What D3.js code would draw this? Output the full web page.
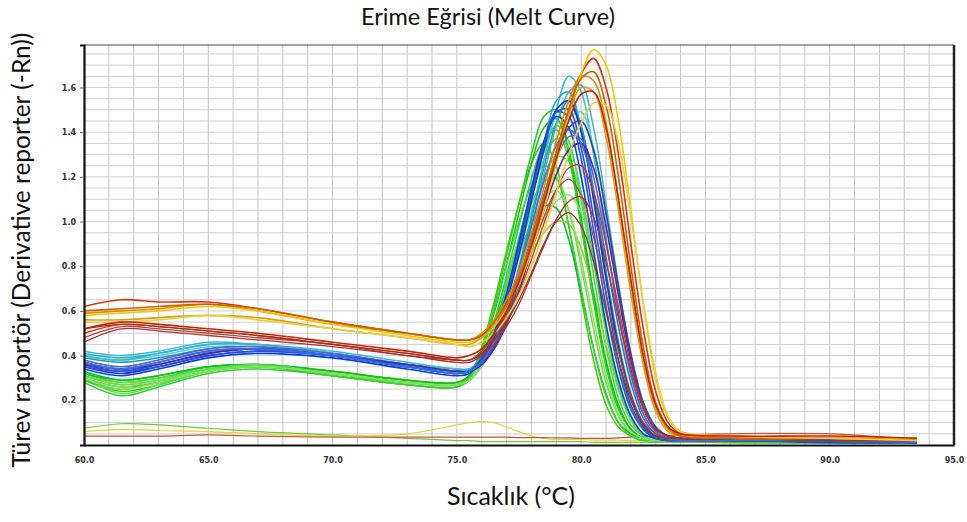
<!DOCTYPE html>
<html>
<head>
<meta charset="utf-8">
<script src="https://cdn.jsdelivr.net/npm/d3@7"></script>
<style>
  body { margin: 0; background: #fff; }
  svg { display: block; }
</style>
</head>
<body>
<script>
const temps = [60, 61.5, 63, 65, 67, 70, 73, 75, 75.5, 76, 76.5, 77, 77.5, 78, 78.5, 79, 79.5, 80, 80.5, 81, 81.5, 82, 82.5, 83, 83.5, 84, 86, 90, 93.5];

const xTicks = [60, 65, 70, 75, 80, 85, 90, 95];
const yTicks = [0.2, 0.4, 0.6, 0.8, 1.0, 1.2, 1.4, 1.6];

// low (no-template) wells
const lowCurves = [
  [0.075,0.095,0.09,0.075,0.06,0.045,0.03,0.02,0.02,0.015,0.015,0.015,0.015,0.015,0.015,0.015,0.015,0.015,0.012,0.012,0.012,0.012,0.012,0.012,0.012,0.012,0.012,0.01,0.01],
  [0.06,0.07,0.065,0.06,0.05,0.04,0.05,0.09,0.10,0.105,0.10,0.08,0.06,0.04,0.03,0.025,0.025,0.025,0.022,0.022,0.022,0.02,0.02,0.02,0.02,0.02,0.02,0.02,0.02],
  [0.04,0.04,0.04,0.045,0.04,0.035,0.035,0.035,0.035,0.035,0.035,0.035,0.033,0.033,0.033,0.032,0.032,0.03,0.03,0.03,0.032,0.035,0.038,0.04,0.042,0.045,0.05,0.05,0.025]
];
const lowColors = ["#66cc33", "#e6d23a", "#c8553a"];

const greenCurves = [
  [0.30,0.26,0.28,0.33,0.35,0.32,0.28,0.27,0.31,0.43,0.62,0.85,1.08,1.30,1.47,1.50,1.30,0.98,0.64,0.35,0.16,0.07,0.03,0.02,0.02,0.02,0.02,0.01,0.01],
  [0.32,0.28,0.30,0.35,0.36,0.33,0.29,0.27,0.29,0.38,0.52,0.72,0.93,1.13,1.31,1.43,1.36,1.10,0.76,0.44,0.21,0.09,0.04,0.02,0.02,0.02,0.02,0.02,0.01],
  [0.29,0.24,0.27,0.33,0.35,0.31,0.27,0.26,0.30,0.44,0.64,0.87,1.08,1.26,1.35,1.25,0.98,0.66,0.38,0.18,0.08,0.04,0.02,0.02,0.02,0.02,0.01,0.01,0.01],
  [0.31,0.27,0.29,0.34,0.35,0.32,0.28,0.27,0.30,0.40,0.55,0.74,0.93,1.08,1.18,1.19,1.05,0.80,0.52,0.28,0.13,0.05,0.03,0.02,0.02,0.02,0.02,0.01,0.01],
  [0.33,0.29,0.31,0.35,0.36,0.33,0.29,0.28,0.31,0.40,0.54,0.70,0.86,0.99,1.07,1.06,0.92,0.68,0.43,0.23,0.10,0.05,0.03,0.02,0.02,0.02,0.02,0.02,0.01],
  [0.30,0.23,0.27,0.33,0.35,0.31,0.28,0.27,0.29,0.37,0.50,0.67,0.86,1.05,1.20,1.29,1.27,1.10,0.82,0.52,0.27,0.12,0.05,0.03,0.02,0.02,0.02,0.01,0.01],
  [0.28,0.22,0.26,0.32,0.34,0.31,0.27,0.26,0.29,0.39,0.55,0.76,0.98,1.19,1.35,1.41,1.28,0.99,0.66,0.37,0.17,0.07,0.03,0.02,0.02,0.02,0.02,0.01,0.01],
  [0.31,0.27,0.29,0.34,0.35,0.32,0.28,0.27,0.29,0.36,0.46,0.59,0.73,0.86,0.95,1.00,0.99,0.88,0.68,0.45,0.25,0.12,0.05,0.03,0.02,0.02,0.02,0.01,0.01],
  [0.32,0.29,0.31,0.35,0.36,0.33,0.29,0.28,0.31,0.42,0.59,0.81,1.04,1.26,1.42,1.46,1.32,1.02,0.68,0.38,0.18,0.07,0.03,0.02,0.02,0.02,0.02,0.02,0.01],
  [0.30,0.26,0.29,0.34,0.35,0.32,0.28,0.27,0.29,0.35,0.44,0.57,0.72,0.88,1.01,1.09,1.12,1.04,0.84,0.59,0.35,0.17,0.07,0.03,0.02,0.02,0.02,0.01,0.01],
  [0.29,0.25,0.28,0.33,0.35,0.31,0.27,0.26,0.30,0.42,0.60,0.81,1.00,1.16,1.25,1.20,0.98,0.70,0.43,0.22,0.10,0.04,0.02,0.02,0.02,0.02,0.02,0.01,0.01],
  [0.31,0.28,0.30,0.34,0.36,0.32,0.28,0.27,0.29,0.37,0.51,0.70,0.91,1.11,1.28,1.37,1.33,1.13,0.82,0.50,0.25,0.11,0.04,0.02,0.02,0.02,0.02,0.01,0.01],
  [0.30,0.25,0.28,0.33,0.35,0.32,0.28,0.27,0.29,0.38,0.51,0.67,0.84,0.99,1.10,1.14,1.05,0.83,0.56,0.31,0.14,0.06,0.03,0.02,0.02,0.02,0.02,0.01,0.01]
];
const greenColors = ["#22cc22", "#33dd33", "#44cc00", "#66dd44", "#00bb33", "#55e055", "#2fd02f", "#99cc33", "#11c411", "#77e077", "#3ccf3c", "#58d858", "#8ee05a"];

const cyanCurves = [
  [0.42,0.40,0.42,0.46,0.45,0.42,0.37,0.34,0.34,0.38,0.47,0.61,0.80,1.03,1.27,1.50,1.65,1.58,1.30,0.93,0.58,0.31,0.14,0.06,0.03,0.03,0.02,0.02,0.02],
  [0.41,0.39,0.41,0.45,0.45,0.41,0.36,0.33,0.34,0.39,0.50,0.66,0.88,1.12,1.35,1.54,1.58,1.42,1.10,0.74,0.43,0.21,0.09,0.04,0.03,0.02,0.02,0.02,0.02],
  [0.40,0.38,0.40,0.44,0.44,0.41,0.36,0.33,0.33,0.36,0.43,0.55,0.71,0.90,1.11,1.31,1.46,1.49,1.33,1.03,0.69,0.39,0.18,0.08,0.04,0.03,0.02,0.02,0.02],
  [0.39,0.37,0.39,0.43,0.44,0.40,0.35,0.33,0.33,0.37,0.46,0.60,0.79,1.01,1.24,1.44,1.54,1.43,1.14,0.78,0.46,0.23,0.10,0.04,0.03,0.02,0.02,0.02,0.02],
  [0.40,0.38,0.41,0.45,0.45,0.41,0.36,0.34,0.34,0.37,0.45,0.58,0.76,0.98,1.21,1.43,1.58,1.61,1.42,1.08,0.72,0.40,0.19,0.08,0.04,0.03,0.02,0.02,0.02]
];
const cyanColors = ["#33bbdd", "#22aacc", "#55cce6", "#1a9ab0", "#3fb3c8"];

const blueCurves = [
  [0.35,0.32,0.35,0.40,0.42,0.40,0.35,0.32,0.33,0.38,0.48,0.64,0.85,1.09,1.32,1.50,1.54,1.40,1.10,0.75,0.44,0.22,0.09,0.04,0.03,0.02,0.02,0.02,0.01],
  [0.36,0.33,0.36,0.41,0.43,0.40,0.35,0.32,0.33,0.39,0.50,0.67,0.89,1.13,1.35,1.49,1.47,1.28,0.96,0.62,0.34,0.16,0.07,0.03,0.02,0.02,0.02,0.02,0.01],
  [0.37,0.34,0.37,0.42,0.43,0.40,0.36,0.33,0.33,0.36,0.44,0.56,0.72,0.91,1.11,1.29,1.42,1.45,1.32,1.04,0.71,0.41,0.19,0.08,0.04,0.03,0.02,0.02,0.01],
  [0.34,0.31,0.34,0.39,0.41,0.39,0.34,0.31,0.32,0.38,0.50,0.68,0.91,1.15,1.36,1.47,1.42,1.20,0.87,0.54,0.29,0.13,0.05,0.03,0.02,0.02,0.02,0.01,0.01],
  [0.38,0.35,0.38,0.43,0.44,0.41,0.36,0.33,0.33,0.37,0.45,0.58,0.74,0.93,1.12,1.28,1.38,1.37,1.20,0.91,0.59,0.32,0.14,0.06,0.03,0.02,0.02,0.02,0.01],
  [0.36,0.34,0.36,0.41,0.43,0.40,0.36,0.33,0.33,0.36,0.43,0.54,0.69,0.87,1.05,1.21,1.32,1.35,1.24,0.98,0.67,0.38,0.17,0.07,0.04,0.03,0.02,0.02,0.01],
  [0.35,0.33,0.35,0.40,0.42,0.40,0.35,0.32,0.33,0.38,0.49,0.66,0.88,1.12,1.34,1.49,1.50,1.33,1.02,0.68,0.38,0.18,0.08,0.03,0.02,0.02,0.02,0.02,0.01],
  [0.37,0.34,0.37,0.42,0.43,0.40,0.35,0.32,0.33,0.37,0.46,0.60,0.78,0.98,1.18,1.34,1.41,1.35,1.14,0.84,0.53,0.28,0.12,0.05,0.03,0.02,0.02,0.02,0.01]
];
const blueColors = ["#1133cc", "#2255ee", "#3344aa", "#0044dd", "#5566cc", "#4a2a9a", "#2a4fd8", "#3a6ee0"];

const redCurves = [
  [0.50,0.54,0.53,0.51,0.49,0.45,0.41,0.38,0.38,0.41,0.47,0.56,0.68,0.83,0.99,1.14,1.24,1.25,1.13,0.90,0.62,0.36,0.17,0.07,0.04,0.03,0.03,0.03,0.02],
  [0.48,0.53,0.52,0.50,0.48,0.45,0.40,0.38,0.38,0.42,0.49,0.59,0.72,0.87,1.02,1.14,1.19,1.12,0.93,0.68,0.42,0.22,0.10,0.05,0.03,0.03,0.03,0.02,0.02],
  [0.46,0.52,0.51,0.49,0.47,0.44,0.40,0.37,0.37,0.40,0.45,0.53,0.63,0.76,0.89,1.01,1.09,1.11,1.02,0.82,0.57,0.34,0.16,0.07,0.04,0.03,0.03,0.02,0.02],
  [0.52,0.54,0.53,0.51,0.49,0.45,0.41,0.38,0.38,0.41,0.47,0.55,0.65,0.77,0.90,1.00,1.04,0.98,0.82,0.60,0.38,0.20,0.09,0.04,0.03,0.03,0.03,0.02,0.02]
];
const redColors = ["#cc3322", "#aa4433", "#b03030", "#993322"];

const orangeCurves = [
  [0.62,0.65,0.64,0.64,0.61,0.55,0.50,0.47,0.47,0.49,0.54,0.62,0.74,0.90,1.09,1.30,1.50,1.66,1.73,1.60,1.30,0.90,0.52,0.24,0.10,0.05,0.04,0.03,0.03],
  [0.59,0.60,0.61,0.63,0.60,0.54,0.50,0.47,0.47,0.50,0.56,0.65,0.78,0.95,1.15,1.36,1.54,1.65,1.63,1.44,1.10,0.72,0.39,0.17,0.07,0.04,0.03,0.03,0.02],
  [0.58,0.59,0.60,0.62,0.60,0.54,0.49,0.46,0.46,0.48,0.53,0.61,0.72,0.87,1.05,1.26,1.47,1.66,1.77,1.70,1.45,1.05,0.63,0.30,0.12,0.06,0.04,0.03,0.03],
  [0.56,0.56,0.57,0.58,0.57,0.52,0.48,0.45,0.45,0.48,0.54,0.63,0.75,0.91,1.10,1.30,1.48,1.60,1.58,1.38,1.05,0.68,0.36,0.15,0.06,0.04,0.03,0.03,0.02],
  [0.60,0.61,0.62,0.63,0.61,0.55,0.50,0.47,0.47,0.49,0.55,0.63,0.75,0.91,1.10,1.31,1.50,1.64,1.67,1.52,1.20,0.80,0.44,0.19,0.08,0.04,0.03,0.03,0.02],
  [0.55,0.55,0.56,0.58,0.56,0.52,0.48,0.45,0.44,0.46,0.50,0.57,0.67,0.80,0.96,1.13,1.30,1.44,1.53,1.52,1.35,1.02,0.64,0.32,0.13,0.06,0.04,0.03,0.02],
  [0.52,0.55,0.54,0.52,0.50,0.46,0.42,0.39,0.40,0.43,0.50,0.60,0.73,0.89,1.08,1.28,1.45,1.57,1.58,1.42,1.10,0.74,0.40,0.18,0.08,0.05,0.04,0.04,0.03]
];
const orangeColors = ["#dd3311", "#e08a00", "#f0c800", "#d4a017", "#c86400", "#e8d040", "#cc2200"];

const width = 967, height = 522;
const margin = { top: 45, right: 13, bottom: 77, left: 84 };

const svg = d3.select("body").append("svg")
  .attr("width", width)
  .attr("height", height);

const x = d3.scaleLinear().domain([60, 95]).range([margin.left, width - margin.right]);
const y = d3.scaleLinear().domain([0, 1.79]).range([height - margin.bottom, margin.top]);

// grid
svg.append("g")
  .attr("stroke", "#c4c4c4")
  .attr("stroke-width", 1)
  .selectAll("line")
  .data(d3.range(61, 95, 1))
  .join("line")
  .attr("x1", d => x(d)).attr("x2", d => x(d))
  .attr("y1", y(0)).attr("y2", y(1.79));

svg.append("g")
  .attr("stroke", "#cfcfcf")
  .attr("stroke-width", 1)
  .selectAll("line")
  .data(d3.range(1, 36).map(i => i * 0.05))
  .join("line")
  .attr("x1", x(60)).attr("x2", x(95))
  .attr("y1", d => y(d)).attr("y2", d => y(d));

svg.append("clipPath").attr("id", "plot")
  .append("rect")
  .attr("x", x(60)).attr("y", y(1.79))
  .attr("width", x(95) - x(60)).attr("height", y(0) - y(1.79));

const line = d3.line()
  .x((d, i) => x(temps[i]))
  .y(d => y(d))
  .curve(d3.curveCatmullRom.alpha(0.5));

function drawGroup(curves, colors, w) {
  svg.append("g")
    .attr("clip-path", "url(#plot)")
    .attr("fill", "none")
    .attr("stroke-width", w)
    .selectAll("path")
    .data(curves)
    .join("path")
    .attr("stroke", (d, i) => colors[i % colors.length])
    .attr("d", line);
}

drawGroup(lowCurves, lowColors, 1.2);
drawGroup(greenCurves, greenColors, 1.5);
drawGroup(cyanCurves, cyanColors, 1.5);
drawGroup(blueCurves, blueColors, 1.6);
drawGroup(redCurves, redColors, 1.3);
drawGroup(orangeCurves, orangeColors, 1.6);

// frame
svg.append("line").attr("x1", x(60)).attr("x2", x(95)).attr("y1", y(1.79)).attr("y2", y(1.79))
  .attr("stroke", "#444").attr("stroke-width", 1);
svg.append("line").attr("x1", x(95)).attr("x2", x(95)).attr("y1", y(1.79)).attr("y2", y(0))
  .attr("stroke", "#222").attr("stroke-width", 2.5);

// axes
const xAxis = svg.append("g")
  .attr("transform", `translate(0,${y(0)})`)
  .call(d3.axisBottom(x).tickValues(xTicks).tickFormat(d3.format(".1f")).tickSize(0).tickPadding(12));
const yAxis = svg.append("g")
  .attr("transform", `translate(${x(60)},0)`)
  .call(d3.axisLeft(y).tickValues(yTicks).tickFormat(d3.format(".1f")).tickSize(4).tickPadding(4));

[xAxis, yAxis].forEach(a => {
  a.select(".domain").attr("stroke", "#111").attr("stroke-width", 2.2);
  a.selectAll(".tick line").attr("stroke", "#666");
  a.selectAll("text")
    .attr("fill", "#333")
    .style("font-family", "'DejaVu Sans', sans-serif")
    .style("font-size", "8px")
    .style("font-weight", "bold");
});

// titles
svg.append("text")
  .attr("x", 488).attr("y", 25)
  .attr("text-anchor", "middle")
  .style("font-family", "Lato, sans-serif")
  .style("font-size", "23.5px")
  .attr("fill", "#111")
  .text("Erime Eğrisi (Melt Curve)");

svg.append("text")
  .attr("transform", `translate(30,250) rotate(-90)`)
  .attr("text-anchor", "middle")
  .style("font-family", "Lato, sans-serif")
  .style("font-size", "24.5px")
  .attr("fill", "#111")
  .text("Türev raportör (Derivative reporter (-Rn))");

svg.append("text")
  .attr("x", 511).attr("y", 505)
  .attr("text-anchor", "middle")
  .style("font-family", "Lato, sans-serif")
  .style("font-size", "25px")
  .attr("fill", "#111")
  .text("Sıcaklık (°C)");
</script>
</body>
</html>
